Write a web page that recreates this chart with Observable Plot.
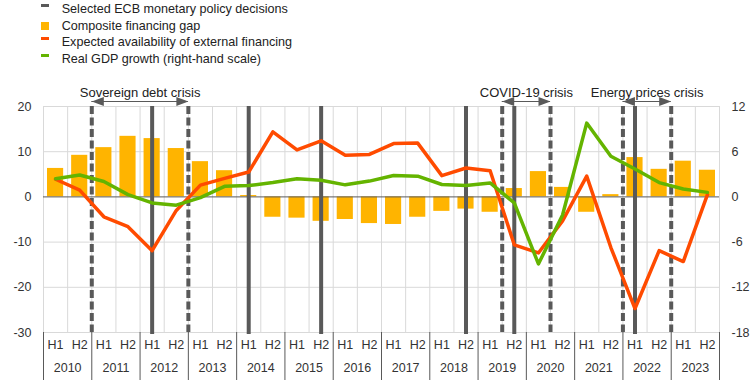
<!DOCTYPE html>
<html><head><meta charset="utf-8">
<script src="https://cdn.jsdelivr.net/npm/d3@7"></script>
<script src="https://cdn.jsdelivr.net/npm/@observablehq/plot@0.6"></script>
<style>
body{margin:0;background:#fff;font-family:"Liberation Sans",Arial,sans-serif;}
#legend{position:relative;height:70px;width:755px;font-size:12.6px;color:#222;}
.item{position:absolute;left:40.7px;height:16.5px;line-height:16.5px;white-space:nowrap;width:400px;}
.sw{position:absolute;left:0;width:8.3px;}
.lab{position:absolute;left:21px;top:0;}
#chart svg{display:block;}
</style></head><body>
<div id="legend"></div><div id="chart"></div>
<script>
// ---- data ----
const years = [2010,2011,2012,2013,2014,2015,2016,2017,2018,2019,2020,2021,2022,2023];
const halves = ["H1","H2"];
const financingGap = [6.3, 9.2, 10.9, 13.4, 12.9, 10.7, 7.8, 5.8, 0.3, -4.5, -4.7, -5.4, -5.0, -5.9, -6.1, -4.5, -3.2, -2.7, -3.4, 1.85, 5.6, 2.1, -3.4, 0.5, 8.7, 6.1, 7.9, 5.9];
const externalFinancing = [3.9, 1.5, -4.4, -6.6, -11.9, -3.0, 2.6, 4.1, 5.5, 14.4, 10.4, 12.4, 9.2, 9.4, 11.8, 11.9, 4.7, 6.4, 5.8, -10.6, -12.4, -5.3, 4.6, -11.2, -24.7, -11.9, -14.3, 0.5];
const gdpGrowth = [2.4, 2.9, 2.05, 0.3, -0.8, -1.1, -0.1, 1.4, 1.5, 1.9, 2.4, 2.2, 1.6, 2.1, 2.85, 2.75, 1.65, 1.5, 1.85, -0.8, -8.9, -2.4, 9.8, 5.4, 3.7, 1.9, 1.05, 0.6];
const ecbDecisions = ["2012 H1","2014 H1","2015 H2","2018 H2","2019 H2","2022 H1"];
const crisisLabels = ["Sovereign debt crisis","COVID-19 crisis","Energy prices crisis"];
const crisisStart = ["2011 H1","2019 H2","2022 H1"];
const crisisEnd = ["2012 H2","2020 H1","2022 H2"];
const leftTicks = [20,10,0,-10,-20,-30];
const rightTicks = [12,6,0,-6,-12,-18];
const legendLabels = ["Selected ECB monetary policy decisions","Composite financing gap","Expected availability of external financing","Real GDP growth (right-hand scale)"];

// ---- styles ----
const C_GRAY = "#595959", C_BAR = "#FFB400", C_ORANGE = "#FF4B00", C_GREEN = "#64B400", C_GRID = "#d9d9d9";
const RATIO = rightTicks[0] / leftTicks[0];

// ---- derived ----
const periods = years.flatMap(y => halves.map(h => `${y} ${h}`));
const idx = p => periods.indexOf(p);
const data = periods.map((p, i) => ({i, half: p.split(" ")[1], gap: financingGap[i], ext: externalFinancing[i], gdp: gdpGrowth[i]}));
const decisions = ecbDecisions.map(p => idx(p) + 0.5);
const crises = crisisLabels.map((label, k) => ({label, s: idx(crisisStart[k]), e: idx(crisisEnd[k]) + 1}));
const bounds = crises.flatMap(c => [c.s, c.e]);

// ---- legend ----
const leg = document.getElementById("legend");
const swatches = [
  {color: C_GRAY, top: 3, h: 3},
  {color: C_BAR, top: 4.1, h: 8.3},
  {color: C_ORANGE, top: 3.3, h: 3},
  {color: C_GREEN, top: 3, h: 3}
];
legendLabels.forEach((t, k) => {
  const it = document.createElement("div");
  it.className = "item";
  it.style.top = (1 + 16.5 * k) + "px";
  const sw = document.createElement("div");
  sw.className = "sw";
  sw.style.background = swatches[k].color;
  sw.style.top = swatches[k].top + "px";
  sw.style.height = swatches[k].h + "px";
  const lb = document.createElement("span");
  lb.className = "lab";
  lb.textContent = t;
  it.appendChild(sw); it.appendChild(lb);
  leg.appendChild(it);
});

// ---- arrowhead symbols ----
const headL = {draw(ctx){ ctx.moveTo(0,0); ctx.lineTo(12,-4.5); ctx.lineTo(12,4.5); ctx.closePath(); }};
const headR = {draw(ctx){ ctx.moveTo(0,0); ctx.lineTo(-12,-4.5); ctx.lineTo(-12,4.5); ctx.closePath(); }};

const chart = Plot.plot({
  width: 755, height: 310,
  marginTop: 36, marginBottom: 48, marginLeft: 43, marginRight: 36,
  style: {fontFamily: "Liberation Sans, Arial, sans-serif", fontSize: "12.5px", color: "#333", background: "white", overflow: "visible"},
  x: {domain: [0, periods.length]},
  y: {domain: [-30, 20]},
  marks: [
    Plot.ruleX(d3.range(0, periods.length + 1), {stroke: C_GRID, strokeWidth: 1}),
    Plot.ruleY(leftTicks.filter(d => d !== 0), {stroke: C_GRID, strokeWidth: 1}),
    Plot.rect(data, {x1: "i", x2: d => d.i + 1, y1: 0, y2: "gap", insetLeft: 4, insetRight: 4, fill: C_BAR}),
    Plot.ruleY([0], {stroke: C_GRAY, strokeWidth: 1}),
    Plot.ruleX(decisions, {stroke: C_GRAY, strokeWidth: 4, insetBottom: -2}),
    Plot.ruleX(bounds, {stroke: C_GRAY, strokeWidth: 4, strokeDasharray: "8,3.5"}),
    Plot.line(data, {x: d => d.i + 0.5, y: "ext", stroke: C_ORANGE, strokeWidth: 3.5}),
    Plot.line(data, {x: d => d.i + 0.5, y: d => d.gdp / RATIO, stroke: C_GREEN, strokeWidth: 3.5}),
    // crisis annotations
    Plot.text(crises, {x: d => (d.s + d.e) / 2, text: "label", frameAnchor: "top", dy: -19, fill: "#222", fontSize: 13}),
    Plot.ruleY(crises, {y: null, x1: "s", x2: "e", dy: -118, stroke: C_GRAY, strokeWidth: 1}),
    Plot.dot(crises, {x: "s", frameAnchor: "top", dy: -5, symbol: headL, r: 5, fill: C_GRAY, stroke: "none"}),
    Plot.dot(crises, {x: "e", frameAnchor: "top", dy: -5, symbol: headR, r: 5, fill: C_GRAY, stroke: "none"}),
    // axes
    Plot.axisY({anchor: "left", ticks: leftTicks, tickFormat: d => String(d), tickSize: 0, tickPadding: 12, label: null, fill: "#333"}),
    Plot.axisY({anchor: "right", ticks: leftTicks, tickFormat: d => String(Math.round(d * RATIO)), tickSize: 0, tickPadding: 12, label: null, fill: "#333"}),
    Plot.axisX({anchor: "bottom", ticks: data.map(d => d.i + 0.5), tickFormat: v => data[Math.floor(v)].half, tickSize: 0, tickPadding: 8, label: null, fill: "#333"}),
    Plot.axisX({anchor: "bottom", ticks: years.map((y, k) => 2 * k + 1), tickFormat: v => String(years[(v - 1) / 2]), tickSize: 0, tickPadding: 31, label: null, fill: "#333"}),
    Plot.axisX({anchor: "bottom", ticks: d3.range(0, periods.length + 1, 2), tickFormat: () => "", tickSize: 48, label: null, stroke: C_GRAY})
  ]
});
document.getElementById("chart").appendChild(chart);
</script>
</body></html>
